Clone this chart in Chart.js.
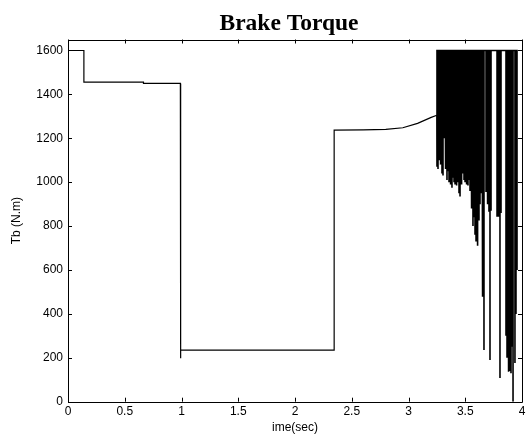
<!DOCTYPE html>
<html>
<head>
<meta charset="utf-8">
<script src="https://cdn.jsdelivr.net/npm/chart.js@4.4.1/dist/chart.umd.min.js"></script>
<style>
html,body{margin:0;padding:0;background:#fff;}
#wrap{width:529px;height:435px;}
</style>
</head>
<body>
<div id="wrap"><canvas id="c" width="529" height="435"></canvas></div>
<script>
// ---- data ----
const chartTitle = "Brake Torque";
const xTitle = "ime(sec)";
const yTitle = "Tb (N.m)";
const xTickValues = [0, 0.5, 1, 1.5, 2, 2.5, 3, 3.5, 4];
const yTickValues = [0, 200, 400, 600, 800, 1000, 1200, 1400, 1600];

// piecewise part of the torque signal (time s, torque N.m)
const stepTime   = [0,    0.14, 0.14, 0.665, 0.665, 0.99, 0.99, 0.995, 2.345, 2.345, 2.6,  2.8,  2.95, 3.08, 3.2,  3.25];
const stepTorque = [1600, 1600, 1456, 1456,  1450,  1450, 198,  235,   235,   1237,  1238, 1241, 1248, 1268, 1295, 1305];

// chattering part: the signal drops from 1600 down to these values
const spikeTime = [3.251,3.260,3.269,3.278,3.286,3.295,3.304,3.313,3.322,3.330,
  3.339,3.348,3.357,3.366,3.374,3.383,3.392,3.401,3.410,3.419,
  3.427,3.436,3.445,3.454,3.463,3.471,3.480,3.489,3.498,3.507,
  3.515,3.524,3.533,3.542,3.551,3.559,3.568,3.577,3.586,3.595,
  3.604,3.612,3.621,3.630,3.639,3.648,3.656,3.665,3.683,3.692,
  3.700,3.709,3.718,3.727,3.780,3.789,3.797,3.806,3.815,3.859,
  3.868,3.877,3.885,3.894,3.903,3.912,3.921,3.938,3.947,3.956];
const spikeLow = [1070,1060,1100,1300,1080,1040,1030,1200,1060,1480,
  1010,1050,1000,1100,990,975,1020,1000,990,1050,
  985,1000,950,935,990,1000,1040,1010,1000,1050,
  990,985,1010,960,950,880,800,840,760,730,
  710,760,825,900,950,478,960,235,955,960,
  900,865,190,870,842,850,842,108,860,300,
  200,137,150,140,130,250,0,176,400,600];
const spikeTop = 1600;

// ---- build line points ----
const stepPoints = [];
for (let i = 0; i < stepTime.length; i++) stepPoints.push({x: stepTime[i], y: stepTorque[i]});
const chatterPoints = [stepPoints[stepPoints.length - 1]];
for (let i = 0; i < spikeTime.length; i++) {
  chatterPoints.push({x: spikeTime[i], y: spikeTop});
  chatterPoints.push({x: spikeTime[i], y: spikeLow[i]});
  chatterPoints.push({x: spikeTime[i], y: spikeTop});
}

const frameTicks = {
  id: 'frameTicks',
  afterDraw(chart) {
    const {ctx, chartArea: a, scales: {x, y}} = chart;
    ctx.save();
    ctx.strokeStyle = '#000';
    ctx.lineWidth = 1;
    ctx.beginPath();
    ctx.rect(Math.round(a.left) + 0.5, Math.round(a.top) + 0.5,
             Math.round(a.right) - Math.round(a.left), Math.round(a.bottom) - Math.round(a.top));
    const L = 4;
    xTickValues.forEach(v => {
      const px = Math.round(x.getPixelForValue(v)) + 0.5;
      ctx.moveTo(px, a.bottom); ctx.lineTo(px, a.bottom - L);
      ctx.moveTo(px, a.top); ctx.lineTo(px, a.top + L);
    });
    yTickValues.forEach(v => {
      const py = Math.round(y.getPixelForValue(v)) + 0.5;
      ctx.moveTo(a.left, py); ctx.lineTo(a.left + L, py);
      ctx.moveTo(a.right, py); ctx.lineTo(a.right - L, py);
    });
    ctx.stroke();
    // title
    ctx.fillStyle = '#000';
    ctx.font = 'bold 23.5px "Liberation Serif", "Times New Roman", serif';
    ctx.textAlign = 'center';
    ctx.textBaseline = 'alphabetic';
    ctx.fillText(chartTitle, 289, 30);
    ctx.restore();
  }
};

new Chart(document.getElementById('c'), {
  type: 'line',
  data: {
    datasets: [{
      data: stepPoints,
      borderColor: '#000',
      borderWidth: 1.2,
      pointRadius: 0,
      fill: false,
      tension: 0
    }, {
      data: chatterPoints,
      borderColor: '#000',
      borderWidth: 1.6,
      pointRadius: 0,
      fill: false,
      tension: 0
    }]
  },
  options: {
    responsive: false,
    animation: false,
    events: [],
    layout: {padding: {top: 39.5, right: 7, left: 0, bottom: 0}},
    plugins: {legend: {display: false}, tooltip: {enabled: false}, title: {display: false}},
    scales: {
      x: {
        type: 'linear', min: 0, max: 4,
        grid: {display: false, drawTicks: false},
        border: {display: false},
        afterBuildTicks: s => { s.ticks = xTickValues.map(v => ({value: v})); },
        afterFit: s => { s.height = 33.3; },
        ticks: {color: '#000', padding: 3, maxRotation: 0, autoSkip: false,
                callback: v => String(v),
                font: {family: '"Liberation Sans", Arial, sans-serif', size: 12}},
        title: {display: true, text: xTitle, color: '#000', padding: {top: 0, bottom: 0},
                font: {family: '"Liberation Sans", Arial, sans-serif', size: 12, lineHeight: 1.2}}
      },
      y: {
        type: 'linear', min: 0, max: 1650,
        grid: {display: false, drawTicks: false},
        border: {display: false},
        afterBuildTicks: s => { s.ticks = yTickValues.map(v => ({value: v})); },
        afterFit: s => { s.width = 68; },
        ticks: {color: '#000', padding: 5, autoSkip: false,
                callback: v => String(v),
                font: {family: '"Liberation Sans", Arial, sans-serif', size: 12}},
        title: {display: true, text: yTitle, color: '#000', padding: {top: 9, bottom: 0},
                font: {family: '"Liberation Sans", Arial, sans-serif', size: 12, lineHeight: 1.2}}
      }
    }
  },
  plugins: [frameTicks]
});
</script>
</body>
</html>
